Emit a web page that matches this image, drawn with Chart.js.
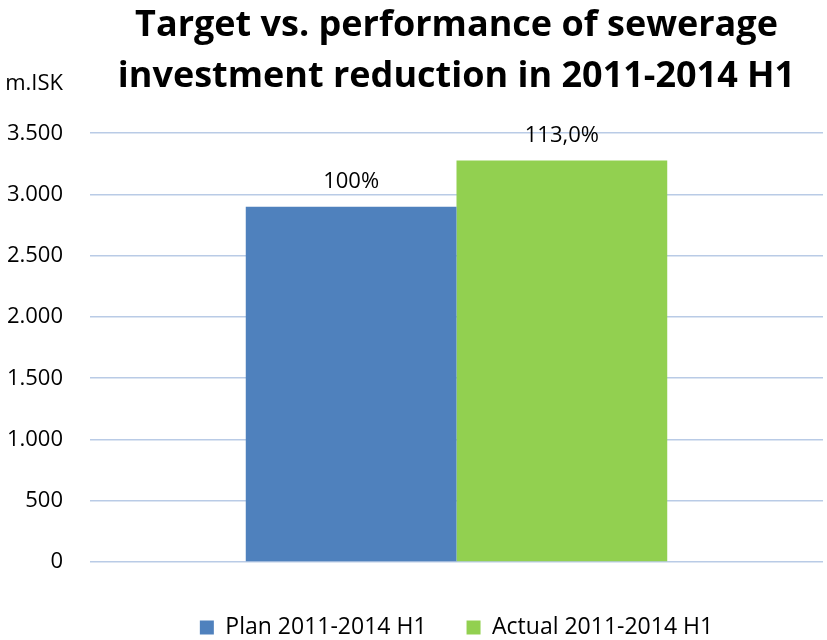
<!DOCTYPE html>
<html>
<head>
<meta charset="utf-8">
<script src="https://cdn.jsdelivr.net/npm/chart.js@4/dist/chart.umd.min.js"></script>
<style>
  html, body { margin: 0; padding: 0; background: #fff; }
  #wrap { width: 827px; height: 640px; }
</style>
</head>
<body>
<div id="wrap"><canvas id="c"></canvas></div>
<script>
// ── data ──────────────────────────────────────────────────────────────
var categories  = [""];
var seriesNames = ["Plan 2011-2014 H1", "Actual 2011-2014 H1"];
var planValues   = [2900];
var actualValues = [3277];
var barLabels    = [["100%"], ["113,0%"]];
var yTicks       = [0, 500, 1000, 1500, 2000, 2500, 3000, 3500];
var yUnit        = "m.ISK";
var titleLines   = ["Target vs. performance of sewerage", "investment reduction in 2011-2014 H1"];

var FONT = "'Open Sans', 'Liberation Sans', sans-serif";

function fmtThousands(v) {
  return String(v).replace(/\B(?=(\d{3})+(?!\d))/g, ".");
}

// labels above bars + unit caption
var barLabelPlugin = {
  id: "barLabels",
  afterDatasetsDraw: function(chart) {
    var ctx = chart.ctx;
    ctx.save();
    ctx.fillStyle = "#000";
    ctx.font = "22px " + FONT;
    ctx.textAlign = "center";
    ctx.textBaseline = "alphabetic";
    chart.data.datasets.forEach(function(ds, di) {
      chart.getDatasetMeta(di).data.forEach(function(bar, i) {
        ctx.fillText(barLabels[di][i], bar.x, bar.y - 19);
      });
    });
    // unit caption top-left
    ctx.textAlign = "right";
    ctx.fillText(yUnit, 63, 90);
    ctx.restore();
  }
};

new Chart(document.getElementById("c").getContext("2d"), {
  type: "bar",
  data: {
    labels: categories,
    datasets: [
      { label: seriesNames[0], data: planValues,   backgroundColor: "#4f81bd" },
      { label: seriesNames[1], data: actualValues, backgroundColor: "#92d050" },
    ],
  },
  plugins: [barLabelPlugin],
  options: {
    responsive: true, maintainAspectRatio: false, animation: false,
    layout: { padding: { top: 0, right: 4, bottom: 0, left: 0 } },
    datasets: { bar: { barPercentage: 1, categoryPercentage: 0.575 } },
    plugins: {
      title: {
        display: true, text: titleLines, fullSize: false,
        color: "#000", font: { family: FONT, size: 36, weight: "bold", lineHeight: 1.42 },
        padding: { top: 0, bottom: 31 },
      },
      legend: {
        position: "bottom", fullSize: false, maxHeight: 64,
        labels: {
          color: "#000", font: { family: FONT, size: 23 },
          boxWidth: 14, boxHeight: 14, padding: 40, useBorderRadius: false,
        },
      },
      tooltip: { enabled: false },
    },
    scales: {
      x: {
        ticks: { display: false },
        grid: { display: false },
        border: { display: false },
        afterFit: function(axis) { axis.height = 14; },
      },
      y: {
        min: 0, max: 3500,
        afterBuildTicks: function(axis) { axis.ticks = yTicks.map(function(v) { return { value: v }; }); },
        afterFit: function(axis) { axis.width = 90; },
        ticks: {
          color: "#000", font: { family: FONT, size: 22 }, padding: 27,
          callback: function(v) { return fmtThousands(v); },
        },
        grid: { color: "#b9cbe6", lineWidth: 1.5, drawTicks: false },
        border: { display: false },
      },
    },
  },
});
</script>
</body>
</html>
